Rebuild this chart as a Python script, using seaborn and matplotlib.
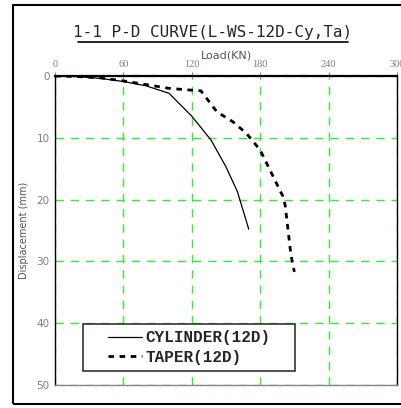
import matplotlib
matplotlib.use('Agg')
import matplotlib.pyplot as plt
import seaborn as sns
import pandas as pd
from matplotlib.patches import Rectangle

# Data
cyl_load = [0, 20, 40, 60, 80, 100, 120, 137, 150, 160, 170]
cyl_disp = [0, 0.1, 0.4, 0.9, 1.6, 2.8, 6.5, 10.4, 14.7, 18.7, 24.8]

taper_load = [0, 20, 40, 60, 80, 100, 120, 128, 142, 156, 168, 180, 192, 200, 202, 207, 210]
taper_disp = [0, 0.1, 0.3, 0.8, 1.4, 2.0, 2.3, 2.4, 5.8, 7.4, 9.3, 12.0, 16.5, 19.5, 21.0, 29.0, 31.7]

x_ticks = [0, 60, 120, 180, 240, 300]
y_ticks = [0, 10, 20, 30, 40, 50]

df = pd.concat([
    pd.DataFrame({'Load': cyl_load, 'Disp': cyl_disp, 'Pile': 'CYLINDER(12D)'}),
    pd.DataFrame({'Load': taper_load, 'Disp': taper_disp, 'Pile': 'TAPER(12D)'}),
])

sns.set_style('white')
fig = plt.figure(figsize=(4.02, 4.08), dpi=100)
ax = fig.add_axes([0.1368, 0.0564, 0.8507, 0.7574])

# outer frame (right side runs off the picture)
fig.patches.append(Rectangle((13 / 402, 4 / 408), 1.2, 1 - 9 / 408, transform=fig.transFigure,
                             fill=False, edgecolor='black', linewidth=1.5))

sns.lineplot(data=df, x='Load', y='Disp', hue='Pile', style='Pile',
             palette=['black', 'black'], dashes=[(None, None), (2, 2)],
             sort=False, ax=ax, legend=False)
ax.lines[0].set_linewidth(0.9)
ax.lines[1].set_linewidth(2.0)

ax.set_xlim(0, 300)
ax.set_ylim(50, 0)
ax.set_xticks(x_ticks)
ax.set_yticks(y_ticks)
ax.xaxis.tick_top()
ax.xaxis.set_label_position('top')
ax.tick_params(axis='x', length=3, colors='gray', labelsize=7.5, pad=2)
ax.tick_params(axis='y', length=3, colors='gray', labelsize=7.5, pad=1)
for lbl in ax.get_xticklabels():
    lbl.set_family('Liberation Serif')
ax.set_xlabel('Load(KN)', fontsize=8, color='#555555', labelpad=1)
ax.set_ylabel('Displacement (mm)', fontsize=7, color='#555555')
ax.yaxis.set_label_coords(-0.075, 0.5)

ax.grid(True, color='#33ee33', linestyle=(0, (6, 5)), linewidth=1.0)
ax.set_axisbelow(True)
ax.spines['top'].set_linewidth(1.6)
ax.spines['top'].set_color('black')
ax.spines['left'].set_color('black')
ax.spines['left'].set_linewidth(1.0)
ax.spines['right'].set_color('black')
ax.spines['right'].set_linewidth(1.0)
ax.spines['bottom'].set_color('#888888')
ax.spines['bottom'].set_linewidth(1.0)

fig.text(213 / 402, 1 - 33 / 408, '1-1 P-D CURVE(L-WS-12D-Cy,Ta)', ha='center', va='center',
         fontsize=11.5, family='DejaVu Sans Mono')
fig.add_artist(plt.Line2D([78 / 402, 348 / 402], [1 - 42 / 408, 1 - 42 / 408], color='black', linewidth=1.2))

# legend box drawn by hand, legend itself frameless
ax.add_patch(Rectangle((83 / 402, 1 - 371 / 408), 212 / 402, 47 / 408, transform=fig.transFigure,
                       facecolor='white', edgecolor='#333333', linewidth=1.2, zorder=4,
                       clip_on=False))
leg = ax.legend(handles=[plt.Line2D([], [], color='black', linewidth=0.9),
                         plt.Line2D([], [], color='black', linewidth=2.0, linestyle=(0, (2, 2)))],
                labels=['CYLINDER(12D)', 'TAPER(12D)'],
                loc='center left', bbox_to_anchor=(108 / 402, 1 - 347.5 / 408),
                bbox_transform=fig.transFigure, frameon=False,
                handlelength=2.1, handletextpad=0.25, borderpad=0.0, labelspacing=0.3,
                borderaxespad=0.0,
                prop={'family': 'Liberation Mono', 'weight': 'bold', 'size': 11.5})
leg.set_zorder(5)

fig.savefig('out.png', dpi=100)
